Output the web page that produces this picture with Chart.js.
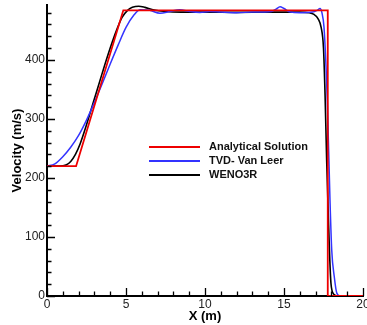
<!DOCTYPE html>
<html lang="en">
<head>
<meta charset="UTF-8">
<title>Velocity profile</title>
<script src="https://cdn.jsdelivr.net/npm/chart.js"></script>
<style>
  html, body { margin: 0; padding: 0; background: #fff; overflow: hidden; }
  .chartbox { position: relative; width: 367px; height: 325px; }
</style>
</head>
<body>
<div class="chartbox"><canvas id="velocityChart"></canvas></div>
<script>
  // Analytical solution
  const analyticalX = [0, 1.84, 4.83, 17.77, 17.77, 20];
  const analyticalY = [220, 220, 484, 484, 0, 0];

  // TVD - Van Leer
  const tvdX = [0, 0.5, 1.0, 1.5, 2.0, 2.5, 3.0, 3.5, 4.0, 4.5, 5.0, 5.5, 5.9, 6.5, 7.15, 7.78, 8.4, 9.05, 9.68,
    10.3, 11, 12, 13, 14.2, 14.5, 14.75, 15.0, 15.4, 16, 16.8, 17.1, 17.28, 17.4, 17.53, 17.66, 17.74, 17.91, 18.02,
    18.18, 18.34, 18.54, 20];
  const tvdY = [220, 224, 236, 252, 272, 298, 328, 360, 393, 425, 455, 476, 485, 484, 479, 482, 485, 482, 480.5,
    482, 481, 480, 481, 482, 486, 490, 487, 481, 480, 481, 484, 487, 480, 456, 389, 332, 163, 78,
    33, 5, 0, 0];

  // WENO3R
  const wenoX = [0, 0.8, 1.2, 1.5, 1.8, 2.1, 2.5, 3.0, 3.5, 4.0, 4.4, 4.75, 5.1, 5.4, 5.8, 6.2, 6.7, 7.5, 8.5, 10,
    12, 14, 16, 16.6, 16.9, 17.15, 17.35, 17.5, 17.6, 17.7, 17.8, 17.9, 17.97, 18.05, 18.12, 18.2, 18.33, 20];
  const wenoY = [220, 220, 222, 228, 240, 258, 290, 334, 378, 420, 450, 472, 484, 489, 491, 489, 485, 482, 481, 481,
    480.5, 481, 481, 480, 477, 470, 455, 420, 340, 230, 140, 60, 22, 8, 4, 2, 0, 0];

  const seriesLabels = ['Analytical Solution', 'TVD- Van Leer', 'WENO3R'];
  const seriesColors = ['#ee0000', '#3333ff', '#000000'];

  const xTicks = [0, 5, 10, 15, 20];
  const yTicks = [0, 100, 200, 300, 400];

  const zip = (xs, ys) => xs.map((x, i) => ({ x: x, y: ys[i] }));
  const fontFamily = '"Liberation Sans", Arial, sans-serif';

  // inward tecplot-style ticks + legend inside the plot
  const frame = {
    id: 'frame',
    afterDraw(chart) {
      const ctx = chart.ctx;
      const xs = chart.scales.x, ys = chart.scales.y;
      const area = chart.chartArea;
      ctx.save();
      ctx.strokeStyle = '#000';
      ctx.lineWidth = 1.3;
      ctx.beginPath();
      for (let v = 0; v <= 20; v += 1) {
        const px = Math.round(xs.getPixelForValue(v)) + 0.5;
        const len = v % 5 === 0 ? 8 : 4.5;
        ctx.moveTo(px, area.bottom);
        ctx.lineTo(px, area.bottom - len);
      }
      for (let v = 0; v <= 480; v += 20) {
        const py = Math.round(ys.getPixelForValue(v)) + 0.5;
        const len = v % 100 === 0 ? 8 : 4.5;
        ctx.moveTo(area.left, py);
        ctx.lineTo(area.left + len, py);
      }
      ctx.stroke();

      // legend
      ctx.font = 'bold 11px ' + fontFamily;
      ctx.textBaseline = 'middle';
      ctx.fillStyle = '#111';
      chart.data.datasets.forEach((ds, i) => {
        const y = 147 + i * 14;
        ctx.strokeStyle = ds.borderColor;
        ctx.lineWidth = 2;
        ctx.beginPath();
        ctx.moveTo(149, y);
        ctx.lineTo(200, y);
        ctx.stroke();
        ctx.fillText(ds.label, 209, y);
      });
      ctx.restore();
    }
  };

  const zeroPad = s => { s.paddingLeft = 0; s.paddingRight = 0; s.paddingTop = 0; s.paddingBottom = 0; };

  new Chart(document.getElementById('velocityChart'), {
    type: 'line',
    data: {
      datasets: [
        { label: seriesLabels[0], data: zip(analyticalX, analyticalY), borderColor: seriesColors[0], borderWidth: 1.8, tension: 0 },
        { label: seriesLabels[1], data: zip(tvdX, tvdY), borderColor: seriesColors[1], borderWidth: 1.5, cubicInterpolationMode: 'monotone' },
        { label: seriesLabels[2], data: zip(wenoX, wenoY), borderColor: seriesColors[2], borderWidth: 1.6, cubicInterpolationMode: 'monotone' }
      ]
    },
    options: {
      responsive: true,
      maintainAspectRatio: false,
      animation: false,
      devicePixelRatio: 1,
      layout: { padding: { left: 0, right: 4, top: 5, bottom: 0 } },
      elements: { point: { radius: 0 } },
      plugins: { legend: { display: false }, tooltip: { enabled: false } },
      scales: {
        x: {
          type: 'linear', min: 0, max: 20,
          grid: { display: false, drawTicks: false },
          border: { display: true, color: '#000', width: 2 },
          ticks: { color: '#222', padding: 1, maxRotation: 0, font: { family: fontFamily, size: 12 } },
          title: { display: true, text: 'X (m)', color: '#000', padding: { top: 0, bottom: 1 },
            font: { family: fontFamily, size: 13, weight: 'bold' } },
          afterBuildTicks: s => { s.ticks = xTicks.map(v => ({ value: v })); },
          afterFit: s => { s.height = 29; zeroPad(s); }
        },
        y: {
          type: 'linear', min: 0, max: 493,
          grid: { display: false, drawTicks: false },
          border: { display: true, color: '#000', width: 2 },
          ticks: { color: '#222', padding: 2, font: { family: fontFamily, size: 12 } },
          title: { display: true, text: 'Velocity (m/s)', color: '#000', padding: { top: 10, bottom: 0 },
            font: { family: fontFamily, size: 13, weight: 'bold' } },
          afterBuildTicks: s => { s.ticks = yTicks.map(v => ({ value: v })); },
          afterFit: s => { s.width = 47; zeroPad(s); }
        }
      }
    },
    plugins: [frame]
  });
</script>
</body>
</html>
